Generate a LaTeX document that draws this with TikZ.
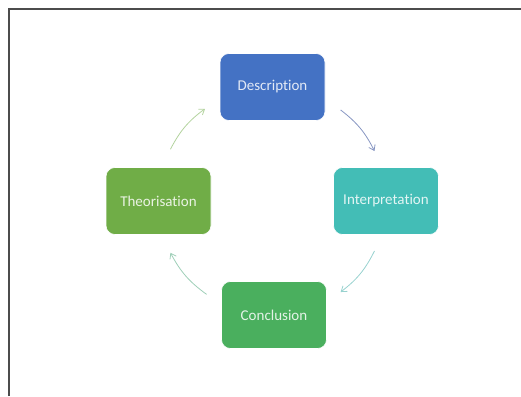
\documentclass[tikz,border=0pt]{standalone}
\usepackage{fontspec}
\setmainfont{Carlito}[Ligatures=NoCommon]
\usetikzlibrary{arrows.meta}

\definecolor{descblue}{HTML}{4472C4}
\definecolor{interteal}{HTML}{43BDB6}
\definecolor{conclgreen}{HTML}{4AAF5E}
\definecolor{theorgreen}{HTML}{70AD47}
\definecolor{arrblue}{HTML}{8796C2}
\definecolor{arrteal}{HTML}{98D2CF}
\definecolor{arrmint}{HTML}{9FCFB8}
\definecolor{arrlime}{HTML}{B3D39E}

\tikzset{
  stagebox/.style={rectangle, rounded corners=9pt, draw=white, line width=0.6pt,
    minimum width=105pt, minimum height=67pt,
    font=\fontsize{15}{18}\selectfont},
  cyclearr/.style={line width=0.8pt, -{Straight Barb[length=5pt,width=7pt]}}
}

\begin{document}
\begin{tikzpicture}[x=1pt, y=-1pt]
  \useasboundingbox (0,0) rectangle (521,396);
  % page frame
  \draw[line width=1.4pt, black!70] (9,396) -- (9,9) -- (521,9);
  % the four stages
  \node[stagebox, fill=descblue, text=white!85!descblue] (desc) at (272.5,87) {Description};
  \node[stagebox, fill=interteal, text=white!85!interteal] (inter) at (386,201) {Interpretation};
  \node[stagebox, fill=conclgreen, text=white!85!conclgreen] (concl) at (274,315) {Conclusion};
  \node[stagebox, fill=theorgreen, text=white!85!theorgreen] (theor) at (158.5,201) {Theorisation};
  % arrow ends on a circle round the middle
  \coordinate (mid) at (272,201);
  \coordinate (a1) at ([shift={(53:114pt)}]mid);
  \coordinate (a2) at ([shift={(26:114pt)}]mid);
  \coordinate (b1) at ([shift={(-26:114pt)}]mid);
  \coordinate (b2) at ([shift={(-53:114pt)}]mid);
  \coordinate (c1) at ([shift={(-125:114pt)}]mid);
  \coordinate (c2) at ([shift={(-153:114pt)}]mid);
  \coordinate (d1) at ([shift={(153:114pt)}]mid);
  \coordinate (d2) at ([shift={(126:114pt)}]mid);
  % clockwise cycle
  \draw[cyclearr, arrblue] (a1) to[bend left=13] (a2);
  \draw[cyclearr, arrteal] (b1) to[bend left=13] (b2);
  \draw[cyclearr, arrmint] (c1) to[bend left=13] (c2);
  \draw[cyclearr, arrlime] (d1) to[bend left=13] (d2);
\end{tikzpicture}
\end{document}
